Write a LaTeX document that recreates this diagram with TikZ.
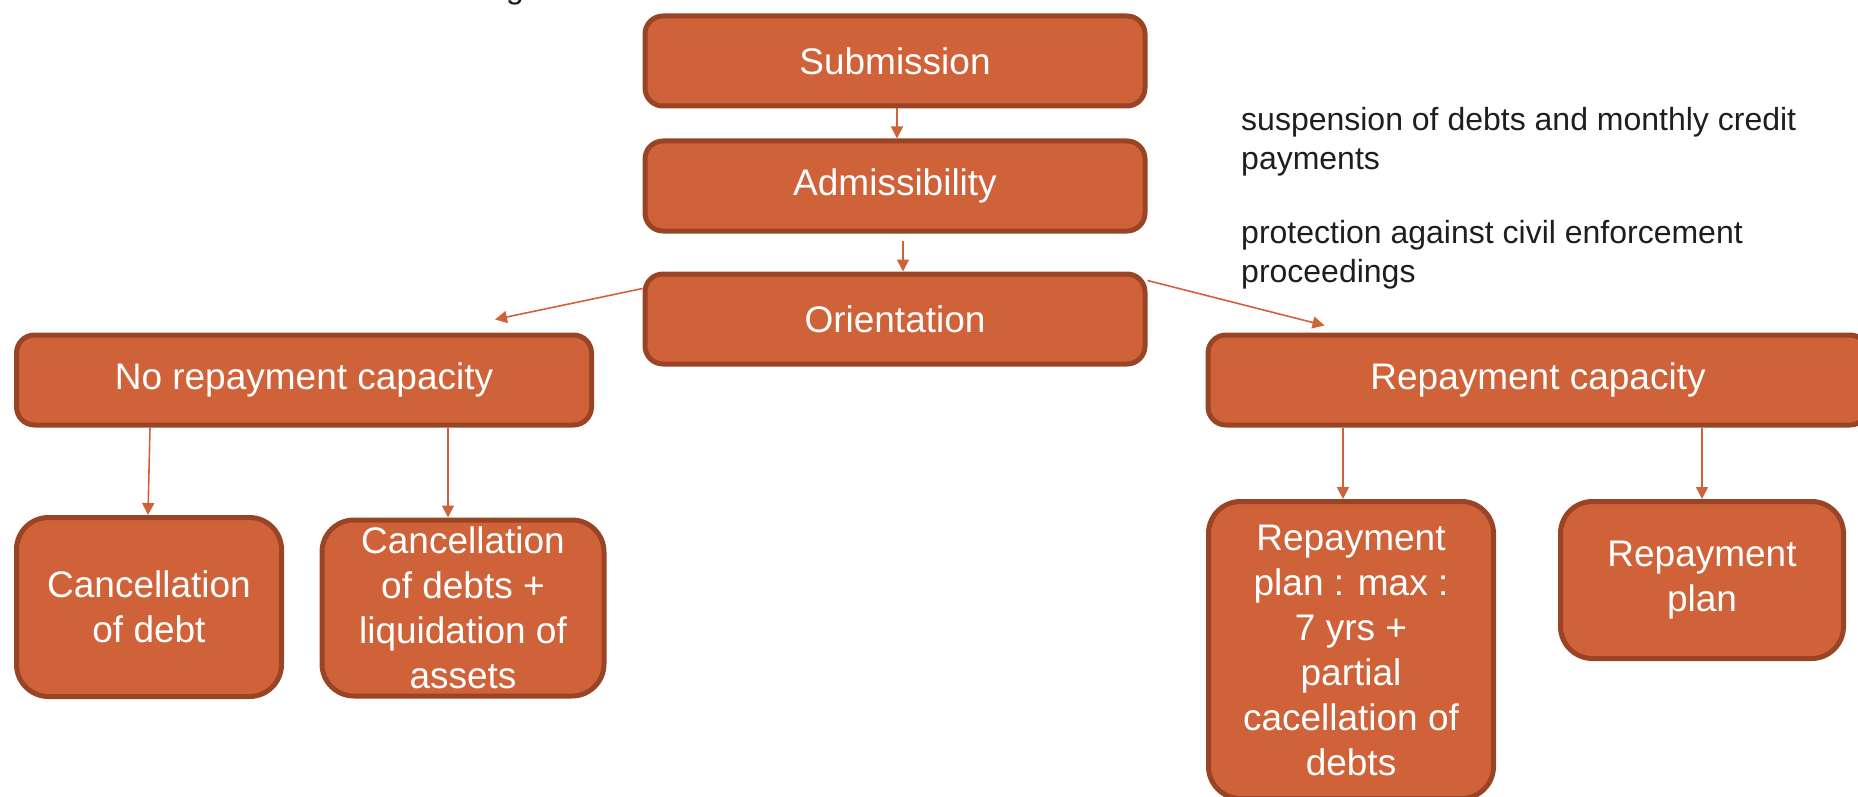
\documentclass[tikz,border=0pt]{standalone}
\usepackage{fontspec}
\setmainfont{Liberation Sans}
\usetikzlibrary{arrows.meta}
\definecolor{boxfill}{RGB}{208,98,58}
\definecolor{boxline}{RGB}{154,68,38}
\definecolor{notegray}{RGB}{30,30,30}
\begin{document}
\begin{tikzpicture}[x=1pt,y=-1pt,
  stage/.style={draw=boxline,fill=boxfill,line width=5pt,rounded corners=18pt,
    text=white,font=\fontsize{37}{45}\selectfont,align=center,inner sep=0pt,
    minimum height=90pt},
  outcome/.style={stage,rounded corners=32pt},
  link/.style={draw=boxfill,line width=1.6pt,-{Triangle[length=12pt,width=12pt]}}]
\useasboundingbox (0,0) rectangle (1858,797);
\clip (0,0) rectangle (1858,797);
% procedure steps
\node[stage,minimum width=500pt] (sub) at (895,61) {Submission};
\node[stage,minimum width=500pt] (adm) at (895,186) {Admissibility};
\node[stage,minimum width=500pt] (ori) at (895,319) {Orientation};
\node[stage,minimum width=575pt] (norep) at (304,380) {No repayment capacity};
\node[stage,minimum width=660pt] (rep) at (1538,380) {Repayment capacity};
% outcomes
\node[outcome,minimum width=265pt,minimum height=179pt] (cdebt) at (149,607) {Cancellation\\of debt};
\node[outcome,minimum width=282pt,minimum height=176pt] (cliq) at (463,608) {Cancellation\\of debts +\\liquidation of\\assets};
\node[outcome,minimum width=285pt,minimum height=297pt] (rpmax) at (1351,650) {Repayment\\plan : max :\\7 yrs +\\partial\\cacellation of\\debts};
\node[outcome,minimum width=283pt,minimum height=157pt] (rplan) at (1702,580) {Repayment\\plan};
% effects of admissibility
\node[anchor=north west,align=left,text=notegray,inner sep=0pt,
  font=\fontsize{32}{39}\selectfont] (note) at (1241,107)
  {suspension of debts and monthly credit\\payments\\[35pt]protection against civil enforcement\\proceedings};
\node[anchor=base,text=notegray,inner sep=0pt,font=\fontsize{32}{39}\selectfont] (cut) at (515,-1) {g};
% arrows
\draw[link] ([xshift=2pt]sub.south) -- ([xshift=2pt]adm.north);
\draw[link] ([xshift=8pt,yshift=-7pt]adm.south) -- ([xshift=8pt]ori.north);
\draw[link] ([yshift=-17pt]ori.north west) -- ([xshift=-99pt,yshift=13pt]norep.north east);
\draw[link] ([yshift=-9pt]ori.north east) -- ([xshift=119pt,yshift=7pt]rep.north west);
\draw[link] ([xshift=-154pt]norep.south) -- ([xshift=-1pt]cdebt.north);
\draw[link] ([xshift=144pt]norep.south) -- ([xshift=-15pt]cliq.north);
\draw[link] ([xshift=-195pt]rep.south) -- ([xshift=-8pt]rpmax.north);
\draw[link] (rplan.north |- rep.south) -- (rplan.north);
\end{tikzpicture}
\end{document}
